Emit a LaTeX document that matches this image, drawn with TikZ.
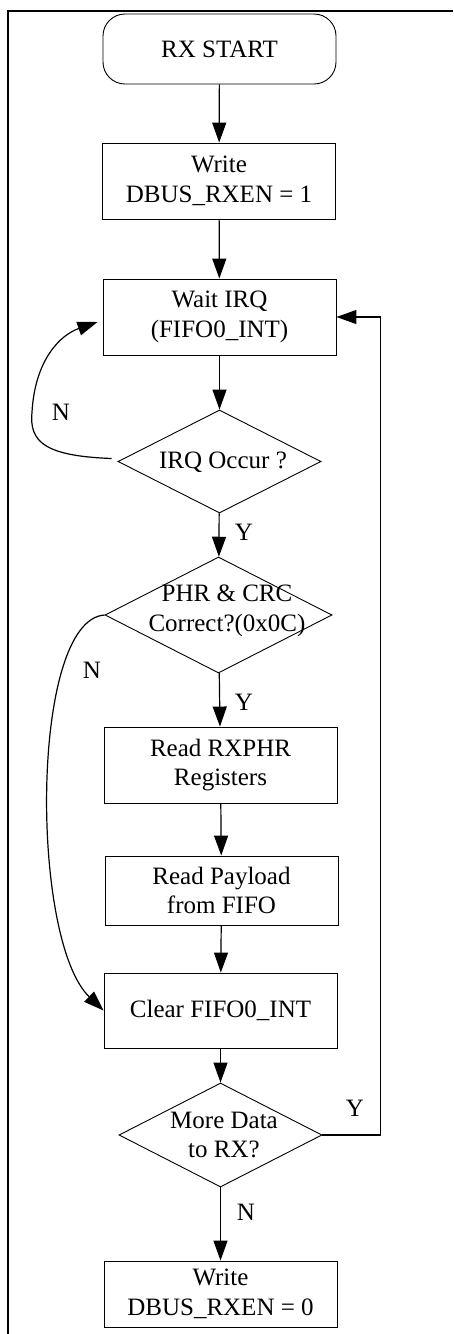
\documentclass[tikz,border=0pt]{standalone}
\usepackage{fontspec}
\setmainfont{Liberation Serif}
\usetikzlibrary{shapes.geometric,arrows.meta,calc}
\begin{document}
\begin{tikzpicture}[x=1pt,y=-1pt,
  every node/.style={font=\fontsize{25}{29.5}\selectfont},
  box/.style={draw,line width=0.9pt,minimum width=233pt,align=center,inner sep=0pt},
  term/.style={box,rounded corners=22pt},
  dec/.style={draw,line width=0.9pt,shape=diamond,inner sep=0pt},
  txt/.style={align=center,inner sep=0pt},
  arr/.style={line width=1.2pt,-{Triangle[length=20pt,width=14pt]}},
  lbl/.style={inner sep=0pt}]
\useasboundingbox (0,0) rectangle (453,1334);
\draw[line width=2pt] (453,11) -- (8,11) -- (8,1334);

\node[term,minimum height=70pt] (start) at (219.5,49) {RX START};
\node[box,minimum height=76pt] (w1) at (219,181) {Write\\DBUS\_RXEN = 1};
\node[box,minimum height=76pt] (wait) at (219.5,317) {Wait IRQ\\(FIFO0\_INT)};
\node[dec,minimum width=203pt,minimum height=103pt] (d1) at (219.5,461.5) {};
\node[txt] (t1) at (223,462) {IRQ Occur ?};
\node[dec,minimum width=227pt,minimum height=116pt] (d2) at (218.5,615) {};
\node[txt] (t2) at (227,611) {PHR \& CRC\\Correct?(0x0C)};
\node[box,minimum height=76pt] (r1) at (220.5,765) {Read RXPHR\\Registers};
\node[box,minimum height=69pt] (r2) at (221.5,890.5) {Read Payload\\from FIFO};
\node[box,minimum height=75pt] (clr) at (220.5,1010.5) {Clear FIFO0\_INT};
\node[dec,minimum width=203pt,minimum height=104pt] (d3) at (220.5,1135) {};
\node[txt] (t3) at (224,1135) {More Data\\to RX?};
\node[box,minimum height=66pt] (w2) at (220.5,1294) {Write\\DBUS\_RXEN = 0};

\draw[arr] (start) -- (w1);
\draw[arr] (w1) -- (wait);
\draw[arr] (wait) -- (d1);
\draw[arr] (d1) -- (d2);
\draw[arr] (d2) -- (r1);
\draw[arr] (r1) -- (r2);
\draw[arr] (r2) -- (clr);
\draw[arr] (clr) -- (d3);
\draw[arr] (d3) -- (w2);

\coordinate (lk) at (32,412);
\draw[arr] ($(d1.west)+(-6,-3)$) .. controls (45,456) and (29,442) .. (lk)
  .. controls (35,360) and (60,335) .. ($(wait.west)+(-5,5)$);
\draw[arr] (d2.west) .. controls (30,620) and (30,940) .. (clr.west);
\draw[arr] (d3.east) -- ++(58,0) |- (wait.east);

\node[lbl] (n1) at (61,412) {N};
\node[lbl] (y1) at (244,532) {Y};
\node[lbl] (n2) at (92,670) {N};
\node[lbl] (y2) at (244,702) {Y};
\node[lbl] (y3) at (355,1108) {Y};
\node[lbl] (n3) at (246,1212) {N};
\end{tikzpicture}
\end{document}
